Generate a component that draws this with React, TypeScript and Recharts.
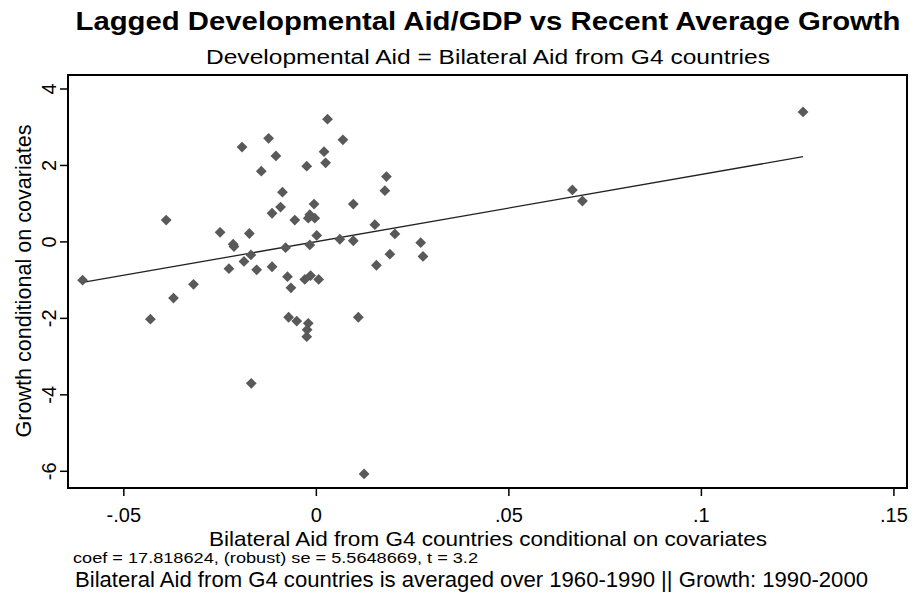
import {
  Customized,
  ReferenceArea,
  ReferenceLine,
  Scatter,
  ScatterChart,
  XAxis,
  YAxis,
} from "recharts";

// aid/GDP (conditional) vs growth (conditional)
const aidValues = [
  0.0029, -0.0124, 0.0069, -0.0193, 0.002, -0.0105, 0.0024, -0.0025, -0.0143, -0.0088,
  -0.0006, 0.0096, -0.0093, -0.0115, -0.0017, -0.0004, -0.0021, -0.0056, -0.039, -0.025,
  -0.0174, 0.0001, 0.0061, 0.0096, -0.0216, -0.0214, -0.0017, -0.008, -0.017, -0.0188,
  -0.0227, -0.0155, -0.0115, -0.0075, -0.003, -0.0015, 0.0006, -0.0607, -0.0066, -0.0319,
  -0.0371, -0.0431, -0.0072, -0.0051, -0.0021, -0.0024, -0.0025, -0.0169, 0.0109, 0.0124,
  0.0156, 0.0182, 0.0178, 0.0152, 0.0204, 0.0271, 0.0191, 0.0277, 0.0665, 0.0691, 0.1264,
];
const growthValues = [
  3.21, 2.71, 2.67, 2.48, 2.36, 2.25, 2.07, 1.98, 1.85, 1.3,
  0.99, 0.99, 0.91, 0.75, 0.71, 0.62, 0.62, 0.57, 0.57, 0.25,
  0.22, 0.17, 0.07, 0.03, -0.06, -0.12, -0.08, -0.15, -0.34, -0.51,
  -0.7, -0.73, -0.65, -0.91, -0.98, -0.88, -0.98, -1.0, -1.2, -1.11,
  -1.47, -2.02, -1.97, -2.07, -2.13, -2.3, -2.48, -3.7, -1.97, -6.07,
  -0.61, 1.71, 1.34, 0.45, 0.21, -0.02, -0.32, -0.38, 1.36, 1.07, 3.4,
];

// fitted line end points
const fitX = [-0.0607, 0.1264];
const fitY = [-1.06, 2.23];

const xTicks = [-0.05, 0, 0.05, 0.1, 0.15];
const xTickLabels = ["-.05", "0", ".05", ".1", ".15"];
const yTicks = [-6, -4, -2, 0, 2, 4];
const yTickLabels = ["-6", "-4", "-2", "0", "2", "4"];

const xDomain = [-0.0645, 0.1534];
const yDomain = [-6.437, 4.366];

const title = "Lagged Developmental Aid/GDP vs Recent Average Growth";
const subtitle = "Developmental Aid = Bilateral Aid from G4 countries";
const xTitle = "Bilateral Aid from G4 countries conditional on covariates";
const yTitle = "Growth conditional on covariates";
const note1 = "coef = 17.818624, (robust) se = 5.5648669, t = 3.2";
const note2 = "Bilateral Aid from G4 countries is averaged over 1960-1990 || Growth: 1990-2000";

const FONT = "'Liberation Sans', Arial, sans-serif";

const points = aidValues.map((x, i) => ({ x, y: growthValues[i] }));

function Diamond(props: any) {
  const { cx, cy } = props;
  if (cx == null || cy == null) return null;
  const r = 5.4;
  return (
    <polygon
      points={`${cx},${cy - r} ${cx + r},${cy} ${cx},${cy + r} ${cx - r},${cy}`}
      fill="#595959"
    />
  );
}

function XTick({ x, y, payload }: any) {
  const i = xTicks.indexOf(payload.value);
  return (
    <text x={x} y={y + 24} textAnchor="middle" fontSize={20} fontFamily={FONT} fill="#000">
      {xTickLabels[i]}
    </text>
  );
}

function YTick({ x, y, payload }: any) {
  const i = yTicks.indexOf(payload.value);
  const bx = x - 2;
  return (
    <text
      x={bx}
      y={y}
      transform={`rotate(-90 ${bx} ${y})`}
      textAnchor="middle"
      fontSize={20}
      fontFamily={FONT}
      fill="#000"
    >
      {yTickLabels[i]}
    </text>
  );
}

function Texts() {
  return (
    <g fontFamily={FONT} fill="#000">
      <text x={488} y={30} textAnchor="middle" fontSize={25} fontWeight="bold"
        textLength={825} lengthAdjust="spacingAndGlyphs">
        {title}
      </text>
      <text x={488} y={64} textAnchor="middle" fontSize={20}
        textLength={564} lengthAdjust="spacingAndGlyphs">
        {subtitle}
      </text>
      <text x={488} y={546} textAnchor="middle" fontSize={21}
        textLength={558} lengthAdjust="spacingAndGlyphs">
        {xTitle}
      </text>
      <text x={31} y={281} textAnchor="middle" fontSize={22}
        transform="rotate(-90 31 281)"
        textLength={313} lengthAdjust="spacingAndGlyphs">
        {yTitle}
      </text>
      <text x={73} y={563} fontSize={14} textLength={405} lengthAdjust="spacingAndGlyphs">
        {note1}
      </text>
      <text x={75} y={587} fontSize={22} textLength={793} lengthAdjust="spacingAndGlyphs">
        {note2}
      </text>
    </g>
  );
}

export default function App() {
  return (
    <div style={{ position: "absolute", left: 0, top: 0, width: 912, height: 609, background: "#fff" }}>
      <ScatterChart
        width={912}
        height={609}
        margin={{ top: 75, right: 5, bottom: 91, left: 28 }}
      >
        <ReferenceArea
          x1={xDomain[0]}
          x2={xDomain[1]}
          y1={yDomain[0]}
          y2={yDomain[1]}
          fill="none"
          stroke="#000"
          strokeWidth={2}
          ifOverflow="visible"
        />
        <XAxis
          type="number"
          dataKey="x"
          domain={xDomain}
          ticks={xTicks}
          allowDataOverflow
          axisLine={false}
          tickLine={{ stroke: "#000", strokeWidth: 1.5 }}
          tickSize={8}
          height={30}
          tick={<XTick />}
        />
        <YAxis
          type="number"
          dataKey="y"
          domain={yDomain}
          ticks={yTicks}
          allowDataOverflow
          axisLine={false}
          tickLine={{ stroke: "#000", strokeWidth: 1.5 }}
          tickSize={8}
          width={40}
          tick={<YTick />}
        />
        <ReferenceLine
          segment={[
            { x: fitX[0], y: fitY[0] },
            { x: fitX[1], y: fitY[1] },
          ]}
          stroke="#222"
          strokeWidth={1.3}
          ifOverflow="visible"
        />
        <Scatter data={points} shape={<Diamond />} isAnimationActive={false} />
        <Customized component={<Texts />} />
      </ScatterChart>
    </div>
  );
}
